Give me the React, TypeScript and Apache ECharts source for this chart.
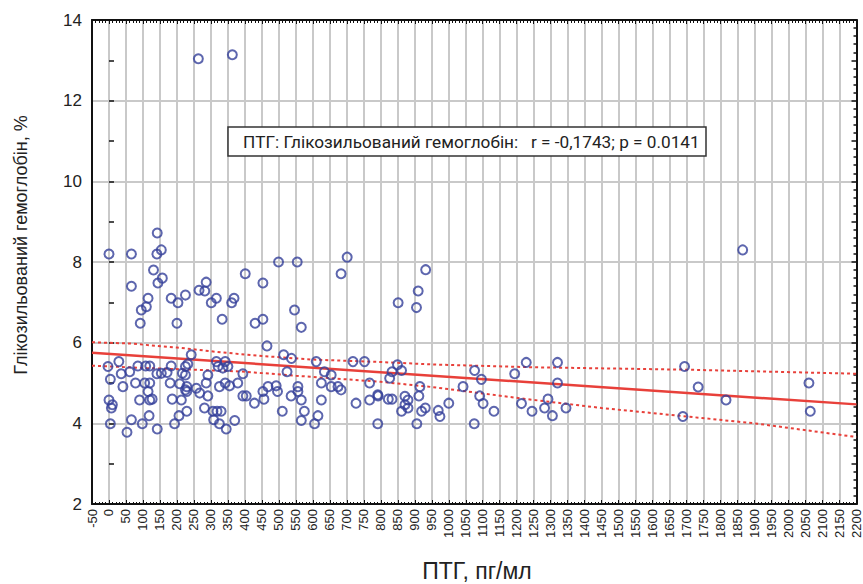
import React, { useEffect, useRef } from 'react';
import * as echarts from 'echarts';

// ПТГ, пг/мл
const pthX = [
  263, 363, 0, 66, 142, 141, 154, 131, 144, 157, 66, 115, 110, 95, 92, 183, 203, 225, 200, 265,
  282, 286, 301, 316, 333, 361, 368, 401, 453, 430, 453, 499, 554, 546, 566, 683, 701, 465, 851, 905,
  910, 932, 1865,
  242, -3, 29, 61, 85, 108, 120, 183, 225, 232, 316, 342, 321, 335, 350, 514, 537, 610, 718, 752,
  36, 141, 154, 171, 216, 225, 291, 394, 524, 634, 654, 4, 41, 78, 105, 120, 180, 208, 229, 225,
  257, 286, 325, 342, 355, 379, 468, 492, 556, 625, 654, 674, 683, 767, 115, 120, 90, 127, 186, 213,
  229, 291, 267, 394, 404, 428, 456, 453, 496, 536, 556, 566, 625, 767, 791, 727, 0, 10, 7, 118,
  206, 229, 281, 306, 318, 330, 510, 575, 615, 4, 53, 66, 98, 142, 193, 308, 325, 345, 370, 566,
  605, 791,
  849, 833, 861, 826, 792, 822, 833, 871, 880, 871, 880, 861, 915, 912, 920, 931, 906, 969, 974, 1000,
  1042, 1076, 1096, 1091, 1101, 1075, 1133, 1194, 1228, 1214, 1245, 1282, 1292, 1305, 1320, 1320, 1345, 1694, 1689, 1734,
  1816, 2060, 2064,
];
// Глікозильований гемоглобін, %
const hbY = [
  13.04, 13.14, 8.2, 8.2, 8.72, 8.2, 8.3, 7.8, 7.48, 7.6, 7.4, 7.1, 6.89, 6.81, 6.48, 7.1, 6.99, 7.18, 6.48, 7.3,
  7.28, 7.5, 6.99, 7.1, 6.58, 6.99, 7.1, 7.71, 7.48, 6.48, 6.58, 8.0, 8.0, 6.81, 6.38, 7.71, 8.12, 5.92, 6.99, 6.87,
  7.28, 7.81, 8.3,
  5.7, 5.41, 5.53, 5.28, 5.42, 5.42, 5.42, 5.42, 5.41, 5.47, 5.53, 5.53, 5.41, 5.37, 5.41, 5.7, 5.61, 5.53, 5.53, 5.53,
  5.23, 5.23, 5.24, 5.26, 5.24, 5.2, 5.2, 5.23, 5.28, 5.28, 5.2, 5.09, 4.91, 5.0, 5.0, 5.0, 5.0, 4.98, 4.91, 4.83,
  4.87, 5.0, 4.91, 5.0, 4.93, 5.0, 4.91, 4.93, 4.91, 5.0, 4.91, 4.91, 4.83, 5.0, 4.79, 4.58, 4.58, 4.6, 4.6, 4.58,
  4.79, 4.68, 4.75, 4.68, 4.68, 4.5, 4.6, 4.79, 4.79, 4.68, 4.79, 4.58, 4.58, 4.58, 4.71, 4.5, 4.58, 4.46, 4.38, 4.19,
  4.19, 4.3, 4.38, 4.3, 4.3, 4.3, 4.3, 4.3, 4.19, 3.99, 3.78, 4.09, 3.99, 3.86, 3.99, 4.09, 3.99, 3.86, 4.07, 4.07,
  3.99, 3.99,
  5.45, 5.28, 5.31, 5.12, 4.68, 4.6, 4.6, 4.67, 4.58, 4.46, 4.38, 4.3, 4.91, 4.68, 4.3, 4.38, 3.99, 4.32, 4.17, 4.5,
  4.91, 5.31, 5.09, 4.68, 4.49, 3.99, 4.3, 5.23, 5.51, 4.49, 4.3, 4.38, 4.6, 4.19, 5.51, 5.0, 4.38, 5.41, 4.17, 4.9,
  4.58, 5.0, 4.3,
];

// regression line and 95% confidence band
const fitX = [-50, 2200];
const fitY = [5.75, 4.47];
const upperX = [-50, 60, 200, 330, 450, 600, 800, 950, 1250, 1700, 2200];
const upperY = [6.01, 5.98, 5.88, 5.76, 5.67, 5.58, 5.52, 5.46, 5.39, 5.33, 5.23];
const lowerX = [-50, 110, 250, 400, 550, 700, 800, 950, 1100, 1250, 1450, 1700, 1900, 2200];
const lowerY = [5.43, 5.37, 5.33, 5.28, 5.18, 5.09, 5.03, 4.9, 4.74, 4.58, 4.38, 4.17, 4.0, 3.66];

const xMin = -50;
const xMax = 2200;
const xStep = 50;
const yMin = 2;
const yMax = 14;

const boxText = 'ПТГ: Глікозильований гемоглобін:   r = -0,1743; p = 0.0141';
const yTitle = 'Глікозильований гемоглобін, %';
const xTitle = 'ПТГ, пг/мл';

const zip = (xs: number[], ys: number[]) => xs.map((x, i) => [x, ys[i]]);

export default function App() {
  const ref = useRef<HTMLDivElement>(null);
  useEffect(() => {
    const chart = echarts.init(ref.current!, null, { renderer: 'svg' });
    let sx = 1;
    const ctx = document.createElement('canvas').getContext('2d');
    if (ctx) {
      ctx.font = '17px Roboto';
      const w = ctx.measureText(boxText).width;
      if (w > 0) sx = 457 / w;
    }
    const black = '#111';
    const grey = '#c9c9c9';
    const red = '#e8403a';
    const labelFont = 'Liberation Sans';
    chart.setOption({
      animation: false,
      backgroundColor: '#fff',
      grid: { left: 92, right: 3, top: 20, bottom: 80, containLabel: false },
      xAxis: [
        {
          type: 'value', position: 'bottom', min: xMin, max: xMax, interval: xStep,
          axisLine: { show: true, onZero: false, lineStyle: { color: black, width: 2 } },
          axisTick: { show: true, inside: true, length: 4, lineStyle: { color: black, width: 1 } },
          minorTick: { show: true, splitNumber: 5, length: 2, lineStyle: { color: black, width: 1 } },
          axisLabel: { rotate: 90, fontSize: 13, color: '#222', fontFamily: labelFont, margin: 5, formatter: (v: number) => String(v) },
          splitLine: { show: true, lineStyle: { color: grey, width: 2 } },
        },
        {
          type: 'value', position: 'top', min: xMin, max: xMax, interval: xStep,
          axisLine: { show: true, onZero: false, lineStyle: { color: black, width: 2 } },
          axisTick: { show: true, inside: true, length: 4, lineStyle: { color: black, width: 1 } },
          minorTick: { show: true, splitNumber: 5, length: 3, lineStyle: { color: black, width: 1 } },
          axisLabel: { show: false },
          splitLine: { show: false },
        },
      ],
      yAxis: [
        {
          type: 'value', position: 'left', min: yMin, max: yMax, interval: 2,
          axisLine: { show: true, onZero: false, lineStyle: { color: black, width: 2 } },
          axisTick: { show: false },
          axisLabel: { fontSize: 17, color: '#222', fontFamily: labelFont, margin: 10 },
          splitLine: { show: true, lineStyle: { color: grey, width: 2 } },
        },
        {
          type: 'value', position: 'left', min: yMin, max: yMax, interval: 1,
          axisLine: { show: false },
          axisTick: { show: true, inside: true, length: 5, lineStyle: { color: black, width: 1.5 } },
          axisLabel: { show: false },
          splitLine: { show: false },
        },
        {
          type: 'value', position: 'right', min: yMin, max: yMax, interval: 1,
          axisLine: { show: true, onZero: false, lineStyle: { color: black, width: 2 } },
          axisTick: { show: true, inside: true, length: 5, lineStyle: { color: black, width: 1.5 } },
          minorTick: { show: true, splitNumber: 5, length: 3, lineStyle: { color: black, width: 1.5 } },
          axisLabel: { show: false },
          splitLine: { show: false },
        },
      ],
      series: [
        {
          type: 'line', data: zip(upperX, upperY), showSymbol: false, symbol: 'none',
          lineStyle: { color: red, width: 2, type: [3, 3] }, z: 3,
        },
        {
          type: 'line', data: zip(lowerX, lowerY), showSymbol: false, symbol: 'none',
          lineStyle: { color: red, width: 2, type: [3, 3] }, z: 3,
        },
        {
          type: 'line', data: zip(fitX, fitY), showSymbol: false, symbol: 'none',
          lineStyle: { color: red, width: 2.5 }, z: 3,
        },
        {
          type: 'scatter', data: zip(pthX, hbY), symbol: 'circle', symbolSize: 9,
          itemStyle: { color: 'rgba(255,255,255,0)', borderColor: '#34409a', borderWidth: 2 }, z: 4,
        },
      ],
      graphic: [
        {
          type: 'rect', shape: { x: 228, y: 127, width: 478, height: 29 },
          style: { fill: '#fff', stroke: '#333', lineWidth: 1.5 }, z: 10,
        },
        {
          type: 'text', x: 243, y: 142, scaleX: sx, z: 11,
          style: { text: boxText, font: '17px Roboto', fill: '#222', align: 'left', verticalAlign: 'middle' },
        },
        {
          type: 'text', x: 21, y: 245, rotation: Math.PI / 2, z: 11,
          style: { text: yTitle, font: '18px "Liberation Sans"', fill: '#222', align: 'center', verticalAlign: 'middle' },
        },
        {
          type: 'text', x: 477, y: 571, z: 11,
          style: { text: xTitle, font: '23px "Liberation Sans"', fill: '#222', align: 'center', verticalAlign: 'middle' },
        },
      ],
    });
    return () => chart.dispose();
  }, []);
  return <div ref={ref} style={{ position: 'fixed', left: 0, top: 0, width: 863, height: 584 }} />;
}
